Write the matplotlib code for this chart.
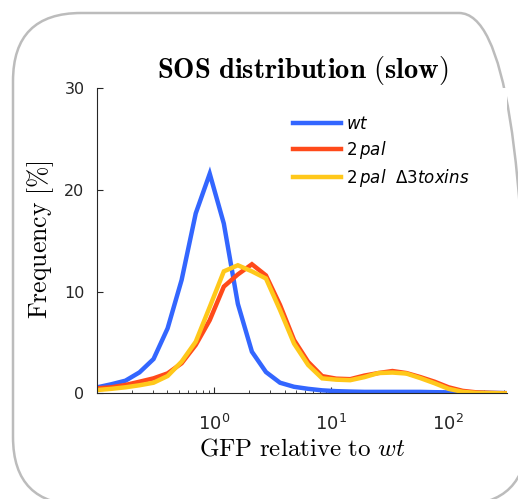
import matplotlib
matplotlib.use("Agg")
import matplotlib.pyplot as plt
from matplotlib.patches import FancyBboxPatch
from matplotlib.ticker import FixedLocator, LogLocator, NullFormatter

plt.rcParams['font.family'] = ['DejaVu Sans']
plt.rcParams['mathtext.fontset'] = 'dejavusans'

# bin centres (GFP relative to wt)
gfp = [0.1007, 0.1327, 0.175, 0.2307, 0.304, 0.401, 0.528, 0.697, 0.918, 1.211,
       1.596, 2.104, 2.773, 3.656, 4.819, 6.353, 8.375, 11.04, 14.55, 19.19,
       25.29, 33.34, 43.95, 57.94, 76.38, 100.7, 132.7, 175.0, 230.7, 304.1]

freq_wt = [0.6, 0.9, 1.25, 2.07, 3.38, 6.4, 11.15, 17.7, 21.6, 16.7,
           8.8, 4.1, 2.1, 1.05, 0.65, 0.45, 0.3, 0.22, 0.18, 0.15,
           0.15, 0.15, 0.15, 0.15, 0.12, 0.1, 0.1, 0.08, 0.05, 0.03]

freq_2pal = [0.5, 0.6, 0.83, 1.15, 1.48, 1.97, 2.96, 4.76, 7.2, 10.5,
             11.7, 12.7, 11.6, 8.7, 5.25, 3.1, 1.7, 1.45, 1.4, 1.75,
             2.0, 2.2, 2.0, 1.6, 1.15, 0.6, 0.25, 0.1, 0.05, 0.02]

freq_2pal_d3 = [0.33, 0.45, 0.6, 0.8, 1.05, 1.71, 3.12, 5.08, 8.5, 12.0,
                12.6, 12.0, 11.3, 8.2, 4.9, 2.8, 1.48, 1.35, 1.3, 1.6,
                2.0, 2.05, 1.95, 1.5, 1.0, 0.45, 0.15, 0.05, 0.03, 0.0]

labels = [r'$\mathit{wt}$', r'$\mathrm{2}\,\mathit{pal}$',
          r'$\mathrm{2}\,\mathit{pal}\ \ \mathit{Δ3toxins}$']
colors = ['#3366FF', '#FF4A1A', '#FFC81A']
yticks = [0, 10, 20, 30]
xticks = [1, 10, 100]

W, H = 518, 499
fig = plt.figure(figsize=(W / 100, H / 100), dpi=100)

# rounded frame (pixel coordinates, y upwards)
bg = fig.add_axes([0, 0, 1, 1])
bg.set_xlim(0, W)
bg.set_ylim(0, H)
bg.axis('off')
bg.add_patch(FancyBboxPatch((13, H - 505), 514, 492,
                            boxstyle="round,pad=0,rounding_size=68",
                            fc='none', ec='#bcbcbc', lw=1.8, clip_on=True))

ax = fig.add_axes([97 / W, (H - 393.4) / H, (506.8 - 97) / W, (393.4 - 88.3) / H])
for y, c, lab in zip([freq_wt, freq_2pal, freq_2pal_d3], colors, labels):
    ax.plot(gfp, y, color=c, lw=3.2, label=lab, solid_joinstyle='miter')

ax.set_xscale('log')
ax.set_xlim(0.1, 10 ** 2.5)
ax.set_ylim(0, 30)
ax.set_yticks(yticks)
ax.xaxis.set_major_locator(FixedLocator(xticks))
ax.xaxis.set_minor_locator(LogLocator(base=10, subs=[2, 3, 4, 5, 6, 7, 8, 9], numticks=20))
ax.xaxis.set_minor_formatter(NullFormatter())
for s in ['top', 'right']:
    ax.spines[s].set_visible(False)
for s in ['left', 'bottom']:
    ax.spines[s].set_color('#262626')
    ax.spines[s].set_linewidth(0.8)
ax.tick_params(axis='both', which='major', direction='in', length=4, width=0.8,
               colors='#262626', labelsize=11.5)
ax.tick_params(axis='y', which='major', pad=9)
ax.tick_params(axis='x', which='minor', direction='in', length=2.5, width=0.6, colors='#262626')
ax.tick_params(axis='x', which='major', labelsize=13, pad=15)

fig.text(303 / W, 1 - 78 / H, r'$\mathbf{SOS\ distribution\ (slow)}$', math_fontfamily='cm',
         fontsize=20.5, ha='center', va='baseline', color='black')
fig.text(41 / W, 1 - 240 / H, r'$\mathrm{Frequency\ [\%]}$', math_fontfamily='cm',
         fontsize=18.5, rotation=90, ha='center', va='center', color='black')
fig.text(302 / W, 1 - 448 / H, r'$\mathrm{GFP\ relative\ to}\ wt$', math_fontfamily='cm',
         fontsize=18, ha='center', va='center', color='black')

leg = ax.legend(loc='upper left',
                bbox_to_anchor=((293 - 97) / (506.8 - 97), 1 - (115 - 88.3) / (393.4 - 88.3)),
                frameon=False, fontsize=12, handlelength=2.9, handletextpad=0.3,
                labelspacing=0.36, borderaxespad=0, borderpad=0)

fig.savefig('out.png', dpi=100)
